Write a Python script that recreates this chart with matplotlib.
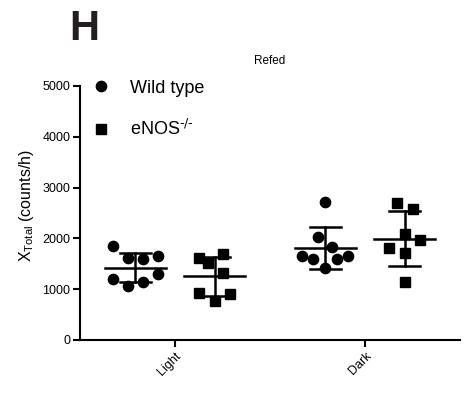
import numpy as np
import matplotlib
matplotlib.use("Agg")
import matplotlib.pyplot as plt
from matplotlib.lines import Line2D

plt.rcParams["font.family"] = ["Liberation Sans", "DejaVu Sans"]
plt.rcParams["mathtext.default"] = "regular"

# Activity counts per animal (counts/h), refed condition
phases = ["Light", "Dark"]
wt_light = [1850, 1608, 1589, 1654, 1195, 1063, 1142, 1293]
ko_light = [1608, 1522, 1693, 1325, 931, 774, 906]
wt_dark = [2722, 2033, 1837, 1659, 1594, 1594, 1659, 1411]
ko_dark = [2703, 2573, 2087, 1969, 1805, 1707, 1136]

# horizontal spread of the points inside each column (category units)
wt_light_dx = [-0.12, -0.04, 0.04, 0.12, -0.12, -0.04, 0.04, 0.12]
ko_light_dx = [-0.08, -0.036, 0.043, 0.043, -0.08, 0.0, 0.08]
wt_dark_dx = [0.0, -0.04, 0.036, -0.125, -0.064, 0.06, 0.117, 0.0]
ko_dark_dx = [-0.042, 0.042, 0.0, 0.08, -0.08, 0.0, 0.0]

fig = plt.figure(figsize=(4.72, 3.93), dpi=100)
ax = fig.add_axes([0.1695, 0.1349, 0.8051, 0.6463])

offset = 0.208
groups = [
    (0 - offset, wt_light, wt_light_dx, "o"),
    (0 + offset, ko_light, ko_light_dx, "s"),
    (1 - offset, wt_dark, wt_dark_dx, "o"),
    (1 + offset, ko_dark, ko_dark_dx, "s"),
]

for xc, vals, dx, mk in groups:
    vals = np.array(vals)
    xs = xc + np.array(dx)
    ms = 7.4 if mk == "o" else 7.0
    ax.plot(xs, vals, linestyle="none", marker=mk, color="black",
            markersize=ms, zorder=3)
    # mean with SD whiskers
    mean = vals.mean()
    sd = vals.std(ddof=1)
    ax.plot([xc - 0.16, xc + 0.16], [mean, mean], color="black", lw=1.8, zorder=4)
    ax.plot([xc, xc], [mean - sd, mean + sd], color="black", lw=1.8, zorder=4)
    for y in (mean - sd, mean + sd):
        ax.plot([xc - 0.08, xc + 0.08], [y, y], color="black", lw=1.8, zorder=4)

ax.set_xlim(-0.5, 1.5)
ax.set_ylim(0, 5000)
ax.set_yticks([0, 1000, 2000, 3000, 4000, 5000])
ax.set_xticks([0, 1])
ax.set_xticklabels(phases, rotation=45, ha="right", rotation_mode="anchor")

for side in ("top", "right"):
    ax.spines[side].set_visible(False)
for side in ("left", "bottom"):
    ax.spines[side].set_linewidth(1.5)
ax.tick_params(axis="both", width=1.5, length=5, labelsize=9, pad=2)

ax.set_ylabel(r"X$_{Total}$ (counts/h)", fontsize=11.5)
ax.yaxis.set_label_coords(-0.116, 0.53)
ax.set_title("Refed", fontsize=8.5, pad=16)

handles = [
    Line2D([], [], linestyle="none", marker="o", color="black", markersize=7.4),
    Line2D([], [], linestyle="none", marker="s", color="black", markersize=7.0),
]
ax.legend(handles, ["Wild type", r"eNOS$^{\text{-/-}}$"], loc="upper left",
          bbox_to_anchor=(-0.006, 1.075), frameon=False, fontsize=13,
          labelspacing=1.25, handletextpad=1.0, handlelength=1.2,
          borderaxespad=0.3)

fig.text(0.179, 0.898, "H", fontsize=30, fontweight="bold", ha="center",
         va="baseline", color="#231f20")

fig.savefig("out.png", dpi=100)
